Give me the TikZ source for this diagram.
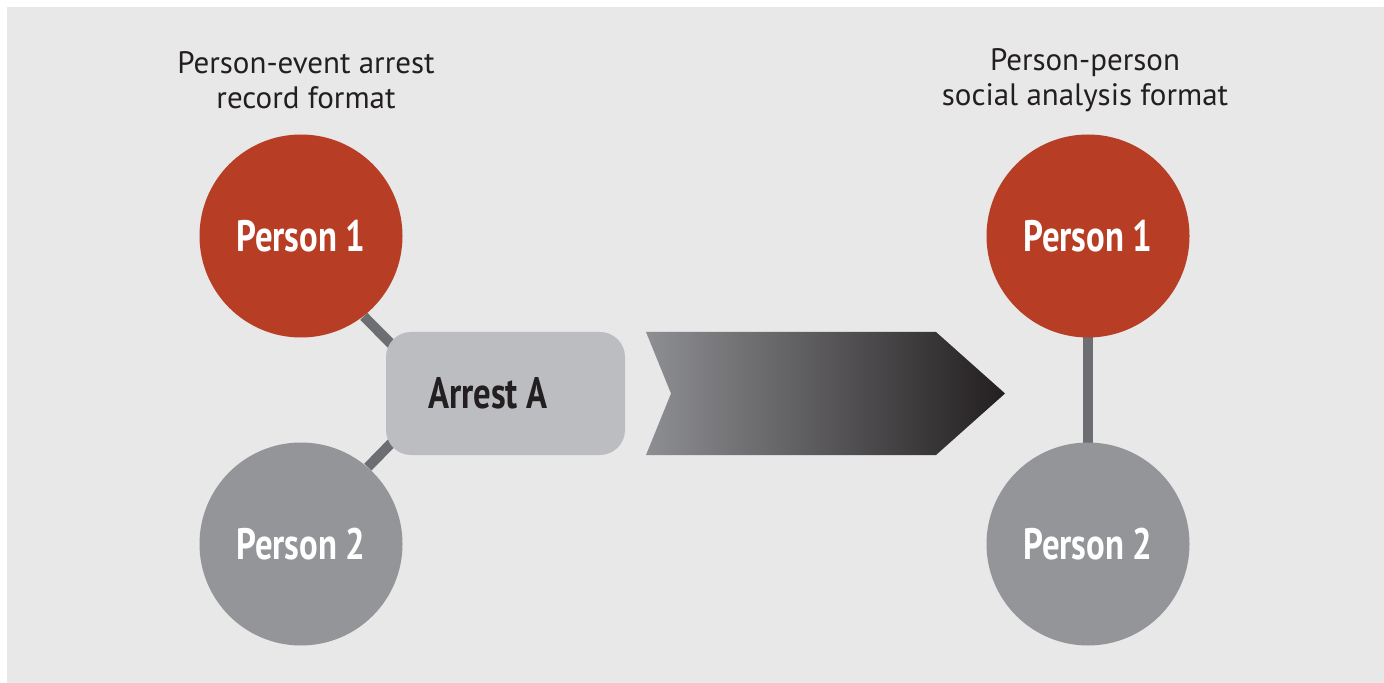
\documentclass[tikz,border=0pt]{standalone}
\usepackage{fontspec}
\setmainfont{PT Sans}
\newfontfamily\condfont{PT Sans}[FakeStretch=0.79]
\usetikzlibrary{positioning}
\usetikzlibrary{calc}
\usetikzlibrary{backgrounds}

\definecolor{bggray}{RGB}{232,232,232}
\definecolor{personred}{RGB}{184,61,37}
\definecolor{persongray}{RGB}{147,149,152}
\definecolor{boxgray}{RGB}{188,189,192}
\definecolor{linkgray}{RGB}{109,110,113}
\definecolor{textdark}{RGB}{35,31,32}
\definecolor{arrowlight}{RGB}{142,143,147}
\definecolor{arrowdark}{RGB}{35,31,32}

\begin{document}
\begin{tikzpicture}[x=0.5pt, y=-0.5pt,
      person/.style={circle, inner sep=0, minimum size=101.5pt, text=white,
        font=\condfont\bfseries\fontsize{22}{24}\selectfont},
      redperson/.style={person, fill=personred},
      grayperson/.style={person, fill=persongray},
      eventbox/.style={fill=boxgray, rounded corners=12.5pt, inner sep=0,
        minimum width=119.5pt, minimum height=61.5pt},
      eventlabel/.style={text=textdark, font=\condfont\bfseries\fontsize{22}{24}\selectfont},
      link/.style={draw=linkgray, line width=5pt},
      heading/.style={align=center, text=textdark, font=\fontsize{15.5}{17.5}\selectfont}
    ]
    \useasboundingbox (0,0) rectangle (1384,683);

    % headings
    \node [heading] (h0) at (306,80) {Person-event arrest\\record format};
    \node [heading] (h1) at (1085,80) {Person-person\\social analysis format};

    % person-event side
    \node [redperson] (p1l) at (301,236) {Person 1};
    \node [grayperson] (p2l) at (301,544) {Person 2};
    \node [eventbox] (arrest) at (505.5,393.5) {};
    \node [eventlabel] (arrestlbl) at (488,393) {Arrest A};
    \coordinate (a0) at (411,364);
    \coordinate (a1) at (411,423);

    % conversion arrow
    \shade[left color=arrowlight, right color=arrowdark]
        (646,332) -- (936,332) -- (1005,393.5) -- (936,455) -- (646,455) -- (671,393.5) -- cycle;

    % person-person side
    \node [redperson] (p1r) at (1088,236) {Person 1};
    \node [grayperson] (p2r) at (1088,544) {Person 2};

    \begin{scope}[on background layer]
    \fill[bggray] (7,7) rectangle (1384,683);
    \draw[link] (p1l.-52) to (a0);
    \draw[link] (p2l.49) to (a1);
    \draw[link] (p1r.center) to (p2r.center);
    \end{scope}

\end{tikzpicture}
\end{document}
